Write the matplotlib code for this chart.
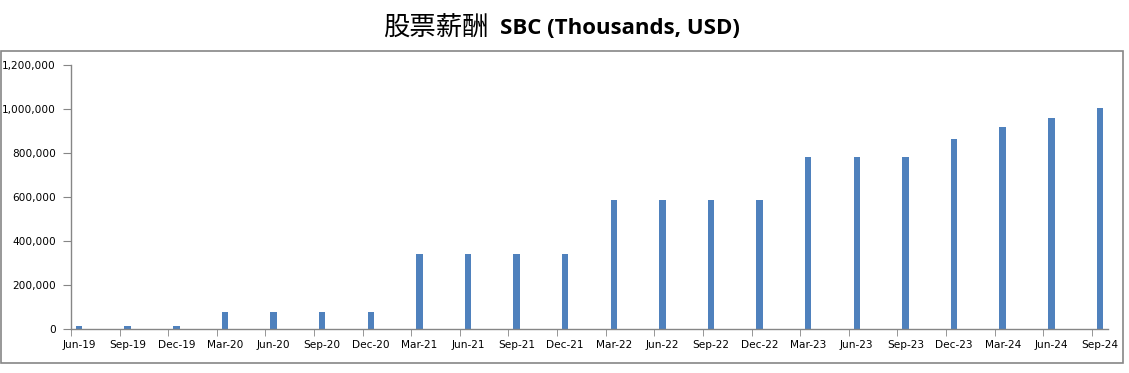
import matplotlib

matplotlib.use("Agg")
import matplotlib.pyplot as plt
import numpy as np
from matplotlib.patches import Rectangle
from matplotlib.ticker import FuncFormatter

# Quarter-end labels and SBC values (thousands USD).
quarters = [
    "Jun-19", "Sep-19", "Dec-19", "Mar-20", "Jun-20", "Sep-20", "Dec-20",
    "Mar-21", "Jun-21", "Sep-21", "Dec-21", "Mar-22", "Jun-22", "Sep-22",
    "Dec-22", "Mar-23", "Jun-23", "Sep-23", "Dec-23", "Mar-24", "Jun-24",
    "Sep-24",
]
sbc = [
    15000, 15000, 15000, 78000, 78000, 78000, 78000,
    341000, 341000, 341000, 341000, 586000, 586000, 586000,
    586000, 782000, 782000, 782000, 864000, 918000, 959000,
    1005000,
]
y_ticks = [0, 200000, 400000, 600000, 800000, 1000000, 1200000]

BAR_COLOR = "#4f81bd"
AXIS_COLOR = "#868686"

fig = plt.figure(figsize=(11.29, 3.73), dpi=100)

# outer chart-area border (Excel style)
fig.patches.append(
    Rectangle((0.5 / 1129, 1 - 363 / 373), 1122 / 1129, 312 / 373,
              transform=fig.transFigure, fill=False,
              edgecolor=AXIS_COLOR, linewidth=1.2)
)

ax = fig.add_axes([71 / 1129, 1 - 329 / 373, 1037 / 1129, 264 / 373])

# date axis: one slot per month, bars sit on quarter months
months = np.arange(len(quarters)) * 3
ax.bar(months, sbc, width=0.4, color=BAR_COLOR, zorder=2)

ax.set_xlim(-0.5, months[-1] + 0.5)
ax.set_ylim(0, 1200000)

ax.set_xticks(months)
ax.set_xticklabels(quarters, fontsize=7.6)
ax.set_xticks(months - 0.5, minor=True)
ax.tick_params(axis="x", which="major", length=0, pad=8)
ax.tick_params(axis="x", which="minor", length=5, color=AXIS_COLOR, direction="out")

ax.set_yticks(y_ticks)
ax.yaxis.set_major_formatter(FuncFormatter(lambda v, _: f"{int(v):,}"))
ax.tick_params(axis="y", labelsize=7.6, length=6, color=AXIS_COLOR, pad=5)

for side in ("top", "right"):
    ax.spines[side].set_visible(False)
for side in ("left", "bottom"):
    ax.spines[side].set_color(AXIS_COLOR)
    ax.spines[side].set_linewidth(1.0)

# title: Chinese part regular, English part bold, placed side by side
renderer = fig.canvas.get_renderer()
t1 = fig.text(383 / 1129, 1 - 28 / 373, "股票薪酬", fontsize=19,
              family=["Noto Sans CJK SC", "DejaVu Sans"], va="center", ha="left")
bb = t1.get_window_extent(renderer)
x2 = (bb.x1 + 11) / fig.bbox.width
fig.text(x2, 1 - 28 / 373, "SBC (Thousands, USD)", fontsize=16,
         family=["Open Sans", "DejaVu Sans"], fontweight="bold",
         va="center", ha="left")

fig.savefig("out.png", dpi=100)
